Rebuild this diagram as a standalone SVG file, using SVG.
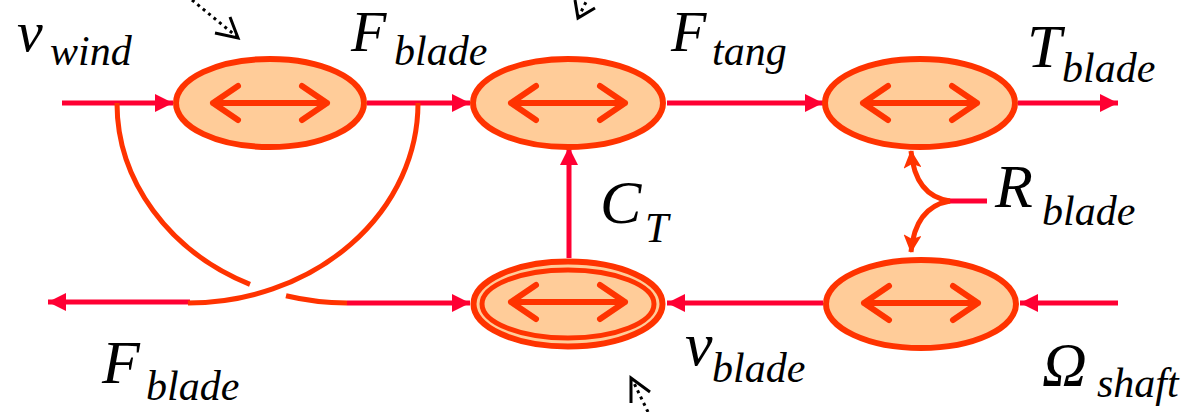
<svg xmlns="http://www.w3.org/2000/svg" width="1194" height="412" viewBox="0 0 1194 412">
<style>
.node{fill:#ffcc99;stroke:#ff3300;stroke-width:6}
.inner{fill:none;stroke:#ff3300;stroke-width:6;stroke-linecap:round;stroke-linejoin:round}
.flow{fill:none;stroke:#ff0033;stroke-width:5}
.arc{fill:none;stroke:#ff3300;stroke-width:5}
.dot{fill:none;stroke:#000;stroke-width:3;stroke-dasharray:3 4}
.head{fill:none;stroke:#000;stroke-width:3}
</style>
<defs>
<marker id="ah" viewBox="0 0 18 18" refX="18" refY="9" markerWidth="18" markerHeight="18" markerUnits="userSpaceOnUse" orient="auto">
<path d="M0,0 L18,9 L0,18 z" fill="#ff0033"/>
</marker>
<marker id="ah2" viewBox="0 0 18 18" refX="17" refY="9" markerWidth="18" markerHeight="18" markerUnits="userSpaceOnUse" orient="auto">
<path d="M0,0 L18,9 L0,18 L4,9 z" fill="#ff3300"/>
</marker>
</defs>

<g id="connectors">
<line class="flow" x1="62" y1="103" x2="173" y2="103" marker-end="url(#ah)"/>
<line class="flow" x1="367" y1="103" x2="470" y2="103" marker-end="url(#ah)"/>
<line class="flow" x1="667" y1="103" x2="823" y2="103" marker-end="url(#ah)"/>
<line class="flow" x1="1018" y1="103" x2="1118" y2="103" marker-end="url(#ah)"/>
<line class="flow" x1="569" y1="258" x2="569" y2="147" marker-end="url(#ah)"/>
<line class="flow" x1="1118" y1="303" x2="1020" y2="303" marker-end="url(#ah)"/>
<line class="flow" x1="823" y1="303" x2="667" y2="303" marker-end="url(#ah)"/>
<line class="flow" x1="347" y1="303" x2="470" y2="303" marker-end="url(#ah)"/>
<line class="flow" x1="190" y1="302" x2="48" y2="302" marker-end="url(#ah)"/>
<line class="flow" x1="987" y1="201" x2="948" y2="201"/>
<path class="arc" d="M117,103 A230,200 0 0,0 250,284.4"/>
<path class="arc" d="M286,295.8 A230,200 0 0,0 347,303"/>
<path class="arc" d="M418,103 A230,200 0 0,1 188,303"/>
<path class="arc" d="M950,201 Q915,196 911,151" marker-end="url(#ah2)"/>
<path class="arc" d="M950,201 Q915,207 911,252" marker-end="url(#ah2)"/>
<line class="dot" x1="192" y1="0" x2="236" y2="36"/>
<polyline class="head" points="215,33 238,38 230,17"/>
<line class="dot" x1="589" y1="-4" x2="579" y2="16"/>
<polyline class="head" points="575,0 578,18 595,8"/>
<line class="dot" x1="648" y1="412" x2="633" y2="381"/>
<polyline class="head" points="650,392 631,378 631,403"/>
</g>

<g id="n1">
<ellipse class="node" cx="270" cy="103" rx="94" ry="44"/>
<path class="inner" d="M213,103 H327 M238,86 L213,103 L238,120 M302,86 L327,103 L302,120"/>
</g>
<g id="n2">
<ellipse class="node" cx="568" cy="103" rx="95" ry="44"/>
<path class="inner" d="M511,103 H625 M536,86 L511,103 L536,120 M600,86 L625,103 L600,120"/>
</g>
<g id="n3">
<ellipse class="node" cx="920" cy="103" rx="95" ry="44"/>
<path class="inner" d="M863,103 H977 M888,86 L863,103 L888,120 M952,86 L977,103 L952,120"/>
</g>
<g id="n4">
<ellipse class="node" cx="568" cy="304" rx="94.5" ry="42.5" stroke-width="7"/>
<ellipse cx="568" cy="304" rx="86" ry="34" fill="none" stroke="#ff3300" stroke-width="5"/>
<path class="inner" d="M511,302 H625 M536,285 L511,302 L536,319 M600,285 L625,302 L600,319"/>
</g>
<g id="n5">
<ellipse class="node" cx="921" cy="304" rx="95" ry="44"/>
<path class="inner" d="M864,303 H978 M889,286 L864,303 L889,320 M953,286 L978,303 L953,320"/>
</g>

<g id="labels" fill="#000">
<text x="17" y="51" font-family="Liberation Serif, Times New Roman, serif" font-style="italic" font-size="58">v</text>
<text x="50" y="65" font-family="Liberation Serif, Times New Roman, serif" font-style="italic" font-size="42">wind</text>
<text x="351" y="51" font-family="Liberation Serif, Times New Roman, serif" font-style="italic" font-size="58">F</text>
<text x="394" y="65" font-family="Liberation Serif, Times New Roman, serif" font-style="italic" font-size="42">blade</text>
<text x="671" y="51" font-family="Liberation Serif, Times New Roman, serif" font-style="italic" font-size="58">F</text>
<text x="712" y="65" font-family="Liberation Serif, Times New Roman, serif" font-style="italic" font-size="42">tang</text>
<text x="1027" y="67" font-family="Liberation Serif, Times New Roman, serif" font-style="italic" font-size="62">T</text>
<text x="1062" y="82" font-family="Liberation Serif, Times New Roman, serif" font-style="italic" font-size="42">blade</text>
<text x="600" y="223" font-family="Liberation Serif, Times New Roman, serif" font-style="italic" font-size="62">C</text>
<text x="645" y="242" font-family="Liberation Serif, Times New Roman, serif" font-style="italic" font-size="42">T</text>
<text x="995" y="207" font-family="Liberation Serif, Times New Roman, serif" font-style="italic" font-size="62">R</text>
<text x="1042" y="225" font-family="Liberation Serif, Times New Roman, serif" font-style="italic" font-size="42">blade</text>
<text x="102" y="383" font-family="Liberation Serif, Times New Roman, serif" font-style="italic" font-size="62">F</text>
<text x="146" y="400" font-family="Liberation Serif, Times New Roman, serif" font-style="italic" font-size="42">blade</text>
<text x="685" y="365" font-family="Liberation Serif, Times New Roman, serif" font-style="italic" font-size="62">v</text>
<text x="712" y="382" font-family="Liberation Serif, Times New Roman, serif" font-style="italic" font-size="42">blade</text>
<text x="1042" y="385" font-family="Liberation Serif, Times New Roman, serif" font-style="italic" font-size="62">Ω</text>
<text x="1097" y="397" font-family="Liberation Serif, Times New Roman, serif" font-style="italic" font-size="42">shaft</text>
</g>
</svg>
